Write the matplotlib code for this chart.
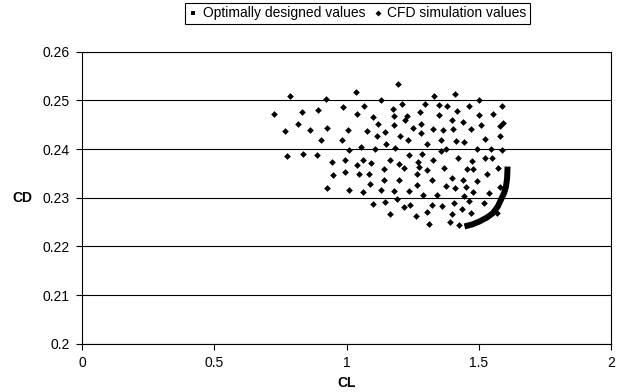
import matplotlib.pyplot as plt
from matplotlib.lines import Line2D

plt.rcParams['font.family'] = ['Liberation Sans', 'DejaVu Sans']

# CFD simulation values (CL, CD)
cfd_cl = [0.788, 1.034, 0.923, 1.132, 0.727, 0.830, 0.892, 0.985, 1.068, 1.041,
          1.102, 0.816, 0.767, 0.862, 0.928, 1.006, 1.077, 1.119, 1.145, 1.114,
          0.902, 0.983, 1.148, 1.054, 1.010, 1.108,
          1.196, 1.331, 1.409, 1.501, 1.209, 1.295, 1.351, 1.379, 1.463, 1.586,
          1.175, 1.418, 1.278, 1.349, 1.499, 1.552, 1.181, 1.230, 1.221, 1.398,
          1.442, 1.281, 1.181, 1.509, 1.592, 1.582, 1.250, 1.326, 1.365, 1.402,
          1.470, 1.281, 1.202, 1.234, 1.359, 1.414, 1.443, 1.522, 1.579, 1.303,
          1.185, 1.376, 1.359, 1.492, 1.548, 1.588,
          0.776, 0.834, 0.887, 0.947, 0.994, 1.038, 1.064, 1.093, 1.165, 0.949,
          0.994, 1.048, 1.084, 1.143, 1.088, 1.143, 0.927, 1.010, 1.064, 1.130,
          1.099, 1.145, 1.165,
          1.238, 1.286, 1.328, 1.422, 1.473, 1.522, 1.549, 1.198, 1.216, 1.270,
          1.273, 1.305, 1.368, 1.455, 1.478, 1.572, 1.266, 1.531, 1.400, 1.439,
          1.493, 1.200, 1.322, 1.267, 1.375, 1.409, 1.453, 1.580, 1.180, 1.238,
          1.289, 1.342, 1.443, 1.477, 1.540, 1.191, 1.408, 1.462, 1.518, 1.240,
          1.323, 1.361, 1.216, 1.305, 1.397, 1.435, 1.471, 1.261, 1.568, 1.310,
          1.391, 1.427]
cfd_cd = [0.2509, 0.2518, 0.2503, 0.2500, 0.2471, 0.2476, 0.2480, 0.2486, 0.2488, 0.2472,
          0.2466, 0.2452, 0.2438, 0.2440, 0.2444, 0.2440, 0.2437, 0.2451, 0.2436, 0.2427,
          0.2419, 0.2418, 0.2411, 0.2405, 0.2397, 0.2400,
          0.2533, 0.2510, 0.2514, 0.2500, 0.2493, 0.2493, 0.2490, 0.2488, 0.2488, 0.2488,
          0.2482, 0.2479, 0.2476, 0.2470, 0.2470, 0.2472, 0.2467, 0.2467, 0.2460, 0.2460,
          0.2456, 0.2452, 0.2449, 0.2449, 0.2453, 0.2448, 0.2444, 0.2441, 0.2439, 0.2442,
          0.2441, 0.2433, 0.2427, 0.2418, 0.2418, 0.2417, 0.2415, 0.2420, 0.2427, 0.2410,
          0.2403, 0.2401, 0.2396, 0.2400, 0.2401, 0.2398,
          0.2385, 0.2390, 0.2388, 0.2373, 0.2378, 0.2368, 0.2377, 0.2371, 0.2378, 0.2347,
          0.2353, 0.2349, 0.2349, 0.2359, 0.2328, 0.2336, 0.2320, 0.2316, 0.2311, 0.2316,
          0.2288, 0.2291, 0.2267,
          0.2388, 0.2390, 0.2377, 0.2381, 0.2375, 0.2381, 0.2381, 0.2370, 0.2362, 0.2373,
          0.2364, 0.2357, 0.2361, 0.2359, 0.2359, 0.2361, 0.2349, 0.2349, 0.2340, 0.2337,
          0.2334, 0.2336, 0.2337, 0.2327, 0.2325, 0.2320, 0.2323, 0.2323, 0.2314, 0.2313,
          0.2306, 0.2305, 0.2303, 0.2311, 0.2309, 0.2297, 0.2290, 0.2294, 0.2289, 0.2286,
          0.2286, 0.2282, 0.2280, 0.2270, 0.2266, 0.2277, 0.2268, 0.2263, 0.2268, 0.2246,
          0.2251, 0.2244]

# Optimally designed values (Pareto front)
opt_cl = [1.446, 1.475, 1.502, 1.530, 1.553, 1.572, 1.584, 1.596, 1.603, 1.607, 1.609]
opt_cd = [0.2241, 0.2245, 0.2251, 0.2259, 0.2268, 0.2282, 0.2296, 0.2310, 0.2323, 0.2340, 0.2364]

fig = plt.figure(figsize=(6.18, 3.92), dpi=100)
ax = fig.add_axes([0.1327, 0.1232, 0.8560, 0.7449])

ax.set_xlim(0, 2)
ax.set_ylim(0.2, 0.26)
ax.set_xticks([0, 0.5, 1, 1.5, 2])
ax.set_xticklabels(['0', '0.5', '1', '1.5', '2'])
ax.set_yticks([0.2, 0.21, 0.22, 0.23, 0.24, 0.25, 0.26])
ax.set_yticklabels(['0.2', '0.21', '0.22', '0.23', '0.24', '0.25', '0.26'])
ax.yaxis.grid(True, color='black', lw=0.8)
ax.set_axisbelow(True)
ax.tick_params(labelsize=10, length=4, width=0.8, direction='out', pad=5)
for sp in ax.spines.values():
    sp.set_linewidth(0.8)
    sp.set_color('black')

ax.plot(cfd_cl, cfd_cd, linestyle='none', marker='D', ms=3.4, mew=0, color='black')
ax.plot(opt_cl, opt_cd, color='black', lw=4.3, solid_capstyle='butt')

ax.set_xlabel('CL', fontsize=10, fontweight='bold', labelpad=4)
ax.set_ylabel('CD', fontsize=10, fontweight='bold', rotation=0, labelpad=14, va='center')

handles = [
    Line2D([], [], linestyle='none', marker='s', ms=3, mew=0, color='black'),
    Line2D([], [], linestyle='none', marker='D', ms=3, mew=0, color='black'),
]
leg = fig.legend(handles, ['Optimally designed values', 'CFD simulation values'],
                 loc='upper right', bbox_to_anchor=(530 / 618, 1 - 3 / 392),
                 ncol=2, fontsize=10, frameon=True, fancybox=False, framealpha=1,
                 edgecolor='black', handlelength=0.6, handletextpad=0.4,
                 columnspacing=0.6, borderpad=0.25, borderaxespad=0)
leg.get_frame().set_linewidth(0.8)

plt.savefig('out.png', dpi=100)
plt.close()
